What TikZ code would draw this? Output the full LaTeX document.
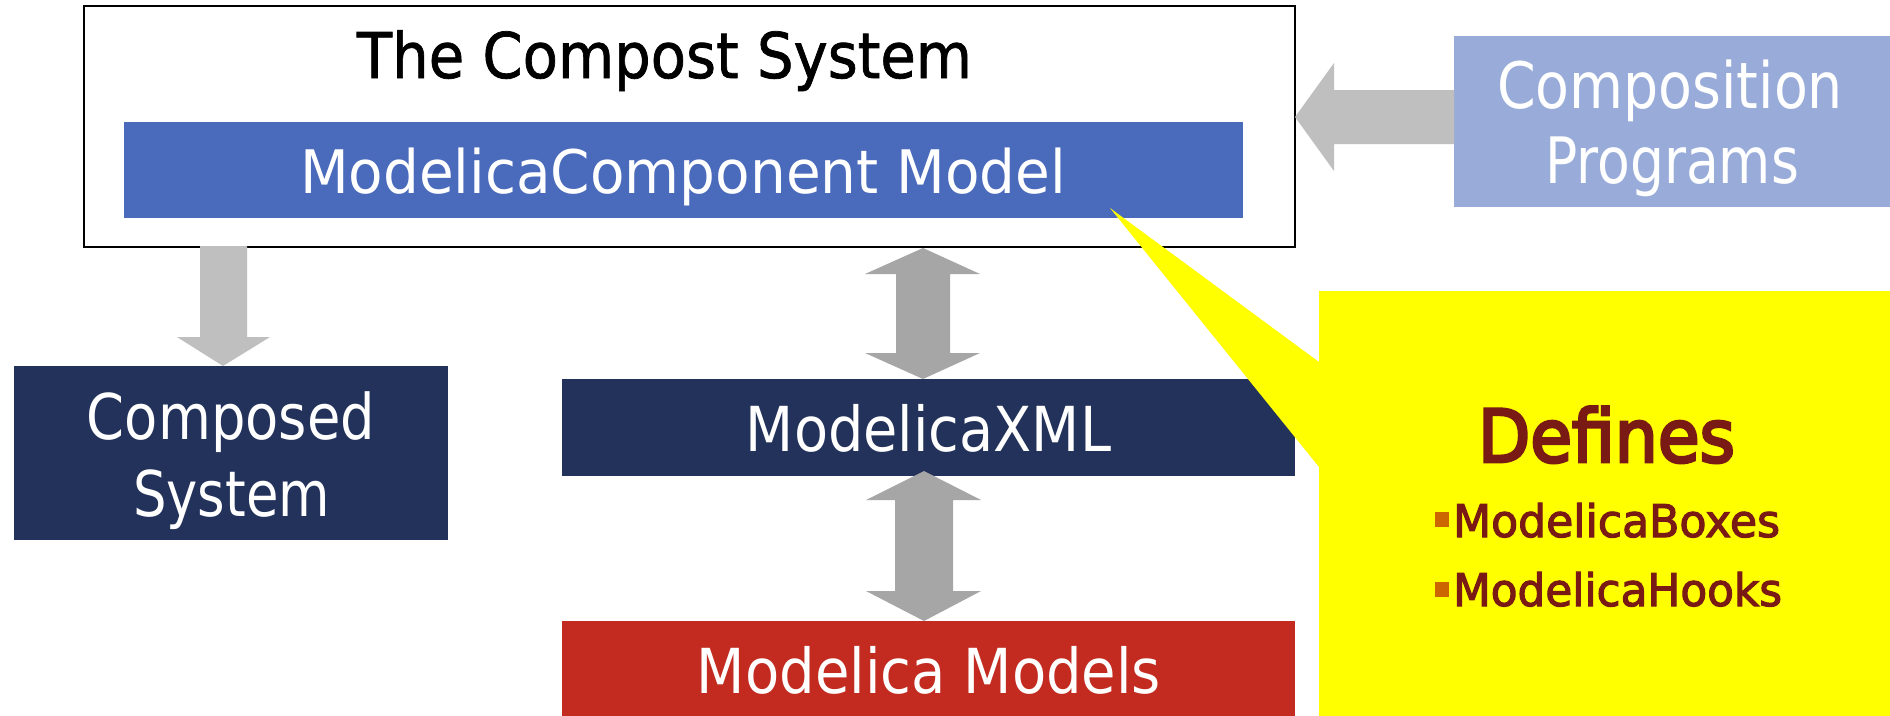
\documentclass[tikz,border=0pt]{standalone}
\usepackage{fontspec}
\setmainfont{DejaVu Sans}
\newfontfamily\titlefont{DejaVu Sans}[FakeBold=1.2]
\newfontfamily\medfont{DejaVu Sans}[FakeBold=2.5]
\newfontfamily\heavyfont{DejaVu Sans}[FakeBold=4]
\usepackage{graphicx}

\definecolor{compblue}{HTML}{4A6ABB}
\definecolor{progblue}{HTML}{99ACD9}
\definecolor{navy}{HTML}{23325A}
\definecolor{modred}{HTML}{C32B21}
\definecolor{calloutyellow}{HTML}{FFFF00}
\definecolor{darkred}{HTML}{7A1A15}
\definecolor{bulletorange}{HTML}{CC6600}
\definecolor{lightarrow}{HTML}{BFBFBF}
\definecolor{darkarrow}{HTML}{A6A6A6}

% set a text to a given width (in pt) while keeping its height
\newcommand\fitto[2]{\resizebox{#1pt}{\height}{#2}}
\newcommand\fsz[1]{\fontsize{#1}{#1}\selectfont}

\begin{document}
\begin{tikzpicture}[x=1pt,y=-1pt,
  blk/.style={rectangle, inner sep=0pt, outer sep=0pt},
  lbl/.style={inner sep=0pt, outer sep=0pt, anchor=base, text=white},
  blockarrow/.style={fill=#1, draw=none}]
\useasboundingbox (0,0) rectangle (1890,715);
\fill[white] (0,0) rectangle (1890,715);

% ---- boxes ----
\node[blk, draw=black, line width=1.5pt, fill=white, minimum width=1211pt, minimum height=241pt] (sys) at (689.5,126.5) {};
\node[blk, fill=compblue, minimum width=1119pt, minimum height=96pt] (comp) at (683.5,170) {};
\node[blk, fill=progblue, minimum width=440pt, minimum height=171pt] (prog) at (1674,121.5) {};
\node[blk, fill=navy, minimum width=434pt, minimum height=174pt] (composed) at (231,453) {};
\node[blk, fill=navy, minimum width=733pt, minimum height=97pt] (xml) at (928.5,427.5) {};
\node[blk, fill=modred, minimum width=733pt, minimum height=99pt] (models) at (928.5,670.5) {};

% ---- block arrows ----
% Composition Programs -> Compost System
\fill[blockarrow=lightarrow] (prog.west |- 0,90) -- (1334,90) -- (1334,63) -- (sys.east |- 0,117)
  -- (1334,171) -- (1334,144) -- (prog.west |- 0,144) -- cycle;
% Compost System -> Composed System
\fill[blockarrow=lightarrow] (200,246) -- (247,246) -- (247,337) -- (270,337) -- (composed.north -| 223,0)
  -- (177,337) -- (200,337) -- cycle;
% Component model <-> ModelicaXML
\fill[blockarrow=darkarrow] (923,248) -- (980,274) -- (950,274) -- (950,353) -- (980,353) -- (xml.north -| 923,0)
  -- (865,353) -- (896,353) -- (896,274) -- (865,274) -- cycle;
% ModelicaXML <-> Modelica Models
\fill[blockarrow=darkarrow] (924,471) -- (981,500) -- (953,500) -- (953,591) -- (981,591) -- (models.north -| 924,0)
  -- (866,591) -- (895,591) -- (895,500) -- (866,500) -- cycle;

% ---- callout ----
\node[blk, fill=calloutyellow, minimum width=576pt, minimum height=430pt] (defs) at (1607,506) {};
\coordinate (ptr) at (1110,208);
\fill[calloutyellow] (ptr) -- (defs.west |- 0,362) -- (defs.west |- 0,467) -- cycle;

% ---- texts ----
\node[lbl, text=black] (tsys) at (664.5,78) {\titlefont\fsz{63}\fitto{615}{The Compost System}};
\node[lbl] (tcomp) at (683,193) {\fsz{60}\fitto{766}{ModelicaComponent Model}};
\node[lbl] (tprog1) at (1670,108) {\fsz{64}\fitto{346}{Composition}};
\node[lbl] (tprog2) at (1672,183) {\fsz{64}\fitto{254}{Programs}};
\node[lbl] (tcs1) at (231,439) {\fsz{63}\fitto{288}{Composed}};
\node[lbl] (tcs2) at (231.5,516) {\fsz{63}\fitto{197}{System}};
\node[lbl] (txml) at (928.5,451) {\fsz{62}\fitto{365}{ModelicaXML}};
\node[lbl] (tmod) at (929,693) {\fsz{62}\fitto{464}{Modelica Models}};

\node[lbl, text=darkred] (tdef) at (1606.5,462) {\heavyfont\fsz{73}\fitto{257}{Defines}};
\fill[bulletorange] (1435,512) rectangle (1449,527);
\node[lbl, text=darkred, anchor=base west] (tbox) at (1453,537) {\medfont\fsz{45}\fitto{327}{ModelicaBoxes}};
\fill[bulletorange] (1435,582) rectangle (1449,597);
\node[lbl, text=darkred, anchor=base west] (thook) at (1453,606) {\medfont\fsz{45}\fitto{329}{ModelicaHooks}};
\end{tikzpicture}
\end{document}
